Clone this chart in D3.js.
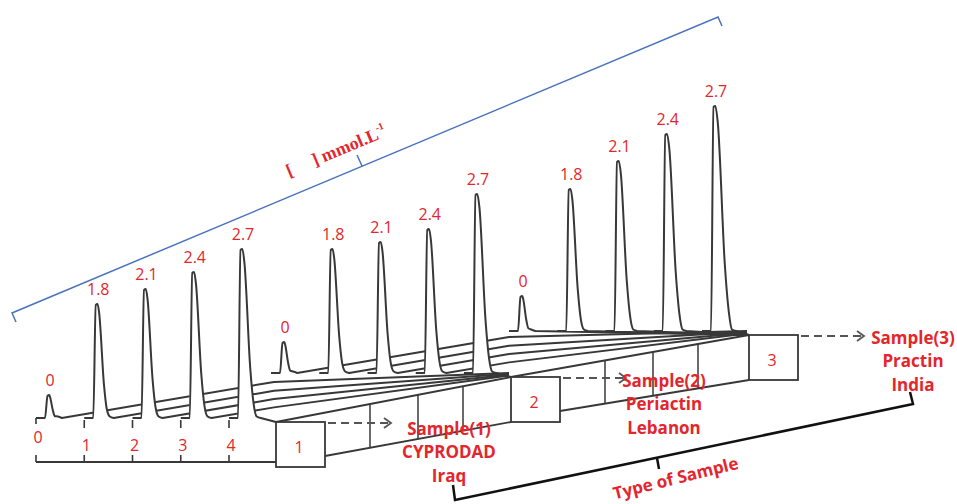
<!DOCTYPE html>
<html>
<head>
<meta charset="utf-8">
<script src="https://cdn.jsdelivr.net/npm/d3@7"></script>
<style>
  body { margin: 0; background: #fff; }
  svg { display: block; }
</style>
</head>
<body>
<svg></svg>
<script>
const concentrations = ['0', '1.8', '2.1', '2.4', '2.7']
const rulerTicks = ['0', '1', '2', '3', '4']
const boxNumbers = ['1', '2', '3']
const sampleNames = ['Sample(1)', 'Sample(2)', 'Sample(3)']
const brands = ['CYPRODAD', 'Periactin', 'Practin']
const countries = ['Iraq', 'Lebanon', 'India']
// peak heights, one value per concentration
const sample1Peaks = [22, 113, 128, 145, 168]
const sample2Peaks = [30, 123, 130, 143, 178]
const sample3Peaks = [34, 141, 169, 196, 224]
const unitLabel = 'mmol.L'
const axisTitle = 'Type of Sample'

window.onload = () => {
  const width = 957
  const height = 504
  const red = '#e3262c'
  const ink = '#383838'
  const boxW = 49
  const boxH = 45

  // front corner of each sample box and the slope of its floor lines
  const boxes = [
    { x: 276, y: 422, slope: -0.17, label: [449, 428] },
    { x: 511, y: 377, slope: -0.17, label: [664, 380] },
    { x: 749, y: 335, slope: 0, label: [913, 337] }
  ]
  const dividers = [94, 142, 187]
  const peaks = [sample1Peaks, sample2Peaks, sample3Peaks]

  const svg = d3.select('svg')
    .attr('width', width)
    .attr('height', height)
    .attr('viewBox', [0, 0, width, height])

  // offset of each peak from the box corner
  const xOffset = d3.scalePoint().domain(concentrations).range([-227, -34])
  // peak height in pixels
  const yScale = d3.scaleLinear().domain([0, 250]).range([0, 250])

  const line = d3.line().curve(d3.curveMonotoneX)

  // the peak: steep front, rounded top, sloping tail
  function peakShape(p, y0, H) {
    const w = 5 + 0.04 * H
    return [
      [p - 4, y0], [p - 1.5, y0 - H], [p + 0.3, y0 - H - 1], [p + 0.2 * w, y0 - H * 0.93],
      [p + 0.7 * w, y0 - H * 0.3], [p + w, y0 - H * 0.08], [p + w + 3, y0 - 1.5], [p + w + 7, y0]
    ]
  }

  function drawGroup(g) {
    const b = boxes[g]
    const next = boxes[g + 1]
    const y0 = b.y - 4
    const layer = svg.append('g')

    concentrations.forEach((c, i) => {
      const p = b.x + xOffset(c)
      const H = yScale(peaks[g][i])
      const shape = peakShape(p, y0, H)
      const tailX = shape[shape.length - 1][0]
      const head = [[p - 13, y0]].concat(shape)
      const floor = []

      if (i === concentrations.length - 1) {
        floor.push([b.x, b.y])
        if (next) floor.push([next.x, next.y])
      } else if (next) {
        floor.push([b.x - 2, y0 + b.slope * (b.x - 2 - tailX)])
        floor.push([next.x - 2, next.y - 0.9 * (4 - i) - 0.5])
      } else {
        floor.push([b.x, b.y])
      }

      layer.append('path')
        .attr('d', line(shape) + 'Z')
        .attr('fill', '#fff')
        .attr('stroke', 'none')

      layer.append('path')
        .attr('d', line(head) + floor.map(q => 'L' + q[0] + ',' + q[1]).join(''))
        .attr('fill', 'none')
        .attr('stroke', ink)
        .attr('stroke-width', 2)
        .attr('stroke-linejoin', 'round')

      layer.append('text')
        .text(c)
        .attr('x', p + 1)
        .attr('y', y0 - H - 10)
        .attr('text-anchor', 'middle')
        .attr('font-family', 'Open Sans')
        .attr('font-size', 16)
        .attr('fill', red)
    })
  }

  // sample boxes, side bands and dashed arrows
  function drawBoxes() {
    boxes.forEach((b, g) => {
      const next = boxes[g + 1]
      if (next) {
        const lower = [[b.x + boxW, b.y + boxH - 11], [next.x, next.y + boxH]]
        svg.append('path')
          .attr('d', d3.line()(lower))
          .attr('fill', 'none')
          .attr('stroke', ink)
          .attr('stroke-width', 1.8)
        const upY = x => b.y + (next.y - b.y) * (x - b.x) / (next.x - b.x)
        const loY = x => lower[0][1] + (lower[1][1] - lower[0][1]) * (x - lower[0][0]) / (lower[1][0] - lower[0][0])
        dividers.forEach(d => {
          const x = b.x + d
          svg.append('line')
            .attr('x1', x).attr('x2', x)
            .attr('y1', upY(x)).attr('y2', loY(x))
            .attr('stroke', ink)
            .attr('stroke-width', 1.5)
        })
      }

      svg.append('rect')
        .attr('x', b.x).attr('y', b.y)
        .attr('width', boxW).attr('height', boxH)
        .attr('fill', '#fff')
        .attr('stroke', ink)
        .attr('stroke-width', 1.8)

      svg.append('text')
        .text(boxNumbers[g])
        .attr('x', b.x + 23)
        .attr('y', b.y + 25)
        .attr('text-anchor', 'middle')
        .attr('dominant-baseline', 'central')
        .attr('font-family', 'Open Sans')
        .attr('font-size', 16)
        .attr('fill', red)

      const ay = b.y + 1
      const ax1 = b.x + boxW + 3
      const ax2 = b.x + boxW + 66
      svg.append('line')
        .attr('x1', ax1).attr('x2', ax2)
        .attr('y1', ay).attr('y2', ay)
        .attr('stroke', '#555')
        .attr('stroke-width', 1.8)
        .attr('stroke-dasharray', '8,5')
      svg.append('path')
        .attr('d', `M${ax2 - 7},${ay - 5}L${ax2},${ay}L${ax2 - 7},${ay + 5}`)
        .attr('fill', 'none')
        .attr('stroke', '#555')
        .attr('stroke-width', 1.8)

      const lines = [sampleNames[g], brands[g], countries[g]]
      lines.forEach((t, k) => {
        svg.append('text')
          .text(t)
          .attr('x', b.label[0])
          .attr('y', b.label[1] + k * 23.5)
          .attr('text-anchor', 'middle')
          .attr('dominant-baseline', 'central')
          .attr('font-family', 'Open Sans')
          .attr('font-weight', 'bold')
          .attr('font-size', 17)
          .attr('fill', red)
      })
    })
  }

  // ruler under the first sample
  function drawRuler() {
    const b = boxes[0]
    const y0 = b.y - 4
    const yr = b.y + 40
    svg.append('line')
      .attr('x1', b.x + xOffset(concentrations[0]) - 13).attr('x2', b.x)
      .attr('y1', yr).attr('y2', yr)
      .attr('stroke', ink)
      .attr('stroke-width', 2)

    rulerTicks.forEach((t, i) => {
      const x = b.x + xOffset(concentrations[i]) - 13
      svg.append('line')
        .attr('x1', x).attr('x2', x)
        .attr('y1', yr - 7).attr('y2', yr)
        .attr('stroke', ink).attr('stroke-width', 1.6)
      svg.append('line')
        .attr('x1', x).attr('x2', x)
        .attr('y1', y0 + (i === 0 ? 0 : 2)).attr('y2', y0 + (i === 0 ? 6 : 10))
        .attr('stroke', ink).attr('stroke-width', 1.6)
      svg.append('text')
        .text(t)
        .attr('x', x + 2)
        .attr('y', i === 0 ? 437 : 445)
        .attr('text-anchor', 'middle')
        .attr('dominant-baseline', 'central')
        .attr('font-family', 'Open Sans')
        .attr('font-size', 16)
        .attr('fill', red)
    })
  }

  // blue bracket over the peaks with the unit
  function drawConcentrationBracket() {
    svg.append('path')
      .attr('d', 'M16,322L12,313L718,17L722,26M362,166L357,155')
      .attr('fill', 'none')
      .attr('stroke', '#4a73bd')
      .attr('stroke-width', 1.5)

    const t = svg.append('text')
      .attr('transform', 'translate(289,177) rotate(-22.7)')
      .attr('font-family', 'Liberation Serif')
      .attr('font-weight', 'bold')
      .attr('font-size', 18)
      .attr('fill', red)
    t.append('tspan').text('[')
    t.append('tspan').attr('dx', 22).text(']')
    t.append('tspan').attr('dx', 4).text(unitLabel)
    t.append('tspan').attr('font-size', 10).attr('dy', -8).text('-1')
  }

  // black bracket under the sample names
  function drawSampleBracket() {
    svg.append('path')
      .attr('d', 'M453,485L455,500L913,404L910,392M657,458L659,469')
      .attr('fill', 'none')
      .attr('stroke', '#111')
      .attr('stroke-width', 2.5)

    svg.append('text')
      .text(axisTitle)
      .attr('transform', 'translate(677,484) rotate(-14)')
      .attr('text-anchor', 'middle')
      .attr('font-family', 'Open Sans')
      .attr('font-weight', 'bold')
      .attr('font-size', 17)
      .attr('fill', red)
  }

  drawGroup(2)
  drawGroup(1)
  drawGroup(0)
  drawBoxes()
  drawRuler()
  drawConcentrationBracket()
  drawSampleBracket()
}
</script>
</body>
</html>
